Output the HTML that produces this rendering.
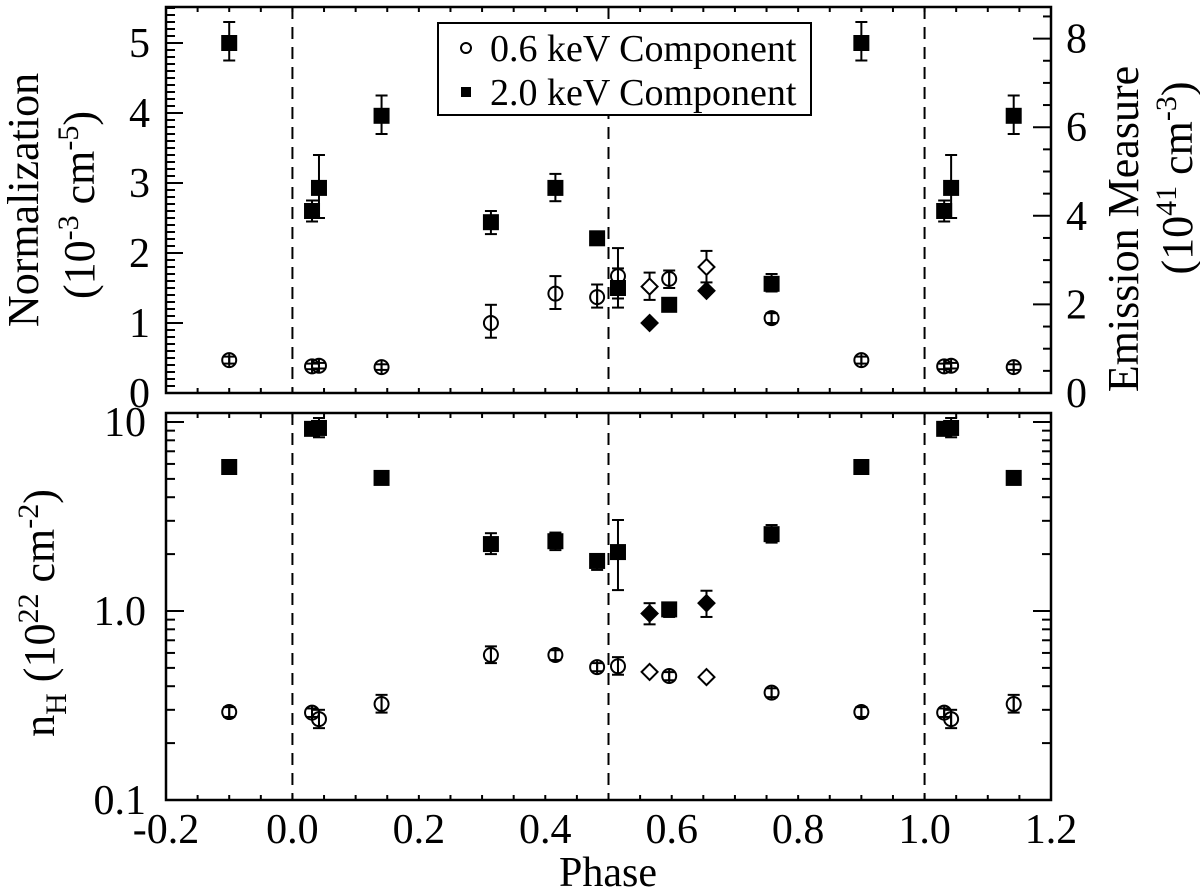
<!DOCTYPE html>
<html><head><meta charset="utf-8"><style>
html,body{margin:0;padding:0;background:#fff}
svg{display:block}
text{font-family:"Liberation Serif",serif;fill:#000}
</style></head><body>
<svg id="chart" width="1200" height="892" viewBox="0 0 1200 892" xmlns="http://www.w3.org/2000/svg"></svg>
<script>
// Base phases
const phasesSq = [-0.1, 0.031, 0.042, 0.141, 0.314, 0.416, 0.482, 0.515, 0.596, 0.758];
const normSq = [5.0, 2.6, 2.93, 3.96, 2.44, 2.93, 2.21, 1.5, 1.26, 1.56];
const normSqLo = [4.75, 2.45, 2.5, 3.7, 2.27, 2.74, 2.15, 1.22, 1.26, 1.45];
const normSqHi = [5.3, 2.75, 3.4, 4.25, 2.6, 3.13, 2.27, 1.78, 1.26, 1.7];
const normCi = [0.47, 0.38, 0.39, 0.37, 1.0, 1.42, 1.37, 1.67, 1.63, 1.07];
const normCiLo = [0.42, 0.34, 0.35, 0.33, 0.79, 1.2, 1.22, 1.35, 1.5, 1.0];
const normCiHi = [0.52, 0.42, 0.43, 0.41, 1.26, 1.67, 1.55, 2.07, 1.75, 1.14];
const nhSq = [5.78, 9.2, 9.3, 5.06, 2.26, 2.34, 1.84, 2.05, 1.02, 2.55];
const nhSqLo = [5.5, 8.7, 8.3, 4.8, 2.0, 2.1, 1.65, 1.29, 0.93, 2.3];
const nhSqHi = [6.1, 9.7, 10.5, 5.3, 2.58, 2.6, 2.0, 3.03, 1.1, 2.85];
const nhCi = [0.292, 0.29, 0.268, 0.322, 0.585, 0.585, 0.505, 0.51, 0.453, 0.37];
const nhCiLo = [0.275, 0.275, 0.24, 0.29, 0.53, 0.55, 0.48, 0.46, 0.43, 0.35];
const nhCiHi = [0.31, 0.305, 0.3, 0.36, 0.65, 0.62, 0.53, 0.57, 0.475, 0.39];
// Diamonds (not repeated)
const phasesDi = [0.565, 0.655];
const normDiOpen = [1.52, 1.8];
const normDiOpenLo = [1.33, 1.58];
const normDiOpenHi = [1.72, 2.03];
const normDiFill = [1.0, 1.46];
const nhDiFill = [0.97, 1.10];
const nhDiFillLo = [0.85, 0.93];
const nhDiFillHi = [1.1, 1.28];
const nhDiOpen = [0.476, 0.447];
const xTickLabels = ["-0.2","0.0","0.2","0.4","0.6","0.8","1.0","1.2"];
const normTickLabels = ["0","1","2","3","4","5"];
const emTickLabels = ["0","2","4","6","8"];
const nhTickLabels = ["0.1","1.0","10"];

const NS="http://www.w3.org/2000/svg";
const svg=document.getElementById('chart');
const X0=166, X1=1051, PMIN=-0.2, PMAX=1.2;
const TT=7, TB=393, BT=413, BB=800;
function xs(p){return X0+(p-PMIN)/(PMAX-PMIN)*(X1-X0);}
function yTop(v){return TB-70*v;}
function yEm(v){return TB-44.3*v;}
function yBot(v){return 611-189*Math.log10(v);}
function el(tag,attrs,parent){const e=document.createElementNS(NS,tag);for(const k in attrs)e.setAttribute(k,attrs[k]);(parent||svg).appendChild(e);return e;}
function line(x1,y1,x2,y2,g,extra){return el('line',Object.assign({x1,y1,x2,y2,stroke:'#000','stroke-width':2},extra||{}),g);}
function text(x,y,s,anchor,size,g){const t=el('text',{x,y,'text-anchor':anchor,'font-size':size},g);t.textContent=s;return t;}

function frame(top,bot,name){
  const g=el('g',{});
  
  
  el('rect',{x:X0,y:top,width:X1-X0,height:bot-top,fill:'none',stroke:'#000','stroke-width':2.5},g);
  for(let i=0;i<=28;i++){const p=PMIN+i*0.05;const x=xs(p);line(x,bot,x,bot-5,g);line(x,top,x,top+5,g);}
  [0,0.5,1].forEach(p=>{line(xs(p),top,xs(p),bot,g,{'stroke-dasharray':'12,8'});});
  return g;
}
const gTop=frame(TT,TB,'top-panel');
const gBot=frame(BT,BB,'bottom-panel');
const gx=el('g',{});


xTickLabels.forEach(s=>{text(xs(parseFloat(s)),843,s,'middle',42,gx);});
const xt=text(608,886,'Phase','middle',42);



for(let i=0;i<=55;i++){const v=i/10;const y=yTop(v);if(y<TT)break;const L=(i%10===0)?17:9;line(X0,y,X0+L,y,gTop);}
normTickLabels.forEach(s=>{text(150,yTop(+s)+14,s,'end',42,gTop);});
for(let i=0;i<=17;i++){const v=i*0.5;const y=yEm(v);if(y<TT+2)break;const L=(i%4===0)?18:8;line(X1,y,X1-L,y,gTop);}
emTickLabels.forEach(s=>{text(1066,yEm(+s)+14,s,'start',42,gTop);});
[0.1,1,10].forEach(d=>{for(let k=1;k<=9;k++){const v=d*k;const y=yBot(v);if(y<BT||y>BB)continue;const L=k===1?18:9;line(X0,y,X0+L,y,gBot);line(X1,y,X1-L,y,gBot);}});
nhTickLabels.forEach(s=>{text(146,yBot(+s)+14,s,'end',42,gBot);});

let t=el('text',{transform:'translate(38,200) rotate(-90)','text-anchor':'middle','font-size':44});
t.textContent='Normalization';


t=el('text',{transform:'translate(94,205) rotate(-90)','text-anchor':'middle','font-size':44});
t.innerHTML='(10<tspan dy="-16" font-size="30">-3</tspan><tspan dy="16"> cm</tspan><tspan dy="-16" font-size="30">-5</tspan><tspan dy="16">)</tspan>';


t=el('text',{transform:'translate(1138,229) rotate(-90)','text-anchor':'middle','font-size':44});
t.textContent='Emission Measure';


t=el('text',{transform:'translate(1192,178) rotate(-90)','text-anchor':'middle','font-size':44});
t.innerHTML='(10<tspan dy="-16" font-size="30">41</tspan><tspan dy="16"> cm</tspan><tspan dy="-16" font-size="30">-3</tspan><tspan dy="16">)</tspan>';


t=el('text',{transform:'translate(54,613) rotate(-90)','text-anchor':'middle','font-size':44});
t.innerHTML='n<tspan dy="12" font-size="30">H</tspan><tspan dy="-12"> (10</tspan><tspan dy="-16" font-size="30">22</tspan><tspan dy="16"> cm</tspan><tspan dy="-16" font-size="30">-2</tspan><tspan dy="16">)</tspan>';



function errbar(x,y1,y2,g){line(x,y1,x,y2,g);line(x-6,y1,x+6,y1,g);line(x-6,y2,x+6,y2,g);}
function square(x,y,g){el('rect',{x:x-8,y:y-8,width:16,height:16,fill:'#000'},g);}
function circle(x,y,g){el('circle',{cx:x,cy:y,r:7,fill:'none',stroke:'#000','stroke-width':2},g);line(x,y-7,x,y+7,g);}
function diamond(x,y,fill,g){el('path',{d:`M${x} ${y-8}L${x+8} ${y}L${x} ${y+8}L${x-8} ${y}Z`,fill:fill?'#000':'#fff',stroke:'#000','stroke-width':2},g);}
function plotPhases(p){const arr=[p];if(p<0.2)arr.push(p+1);return arr;}

const gs=el('g',{});


const gc=el('g',{});


phasesSq.forEach((p,i)=>{
  plotPhases(p).forEach(pp=>{
    const x=xs(pp);
    errbar(x,yTop(normCiLo[i]),yTop(normCiHi[i]),gc);circle(x,yTop(normCi[i]),gc);
    errbar(x,yBot(nhCiLo[i]),yBot(nhCiHi[i]),gc);circle(x,yBot(nhCi[i]),gc);
    errbar(x,yTop(normSqLo[i]),yTop(normSqHi[i]),gs);square(x,yTop(normSq[i]),gs);
    errbar(x,yBot(nhSqLo[i]),yBot(nhSqHi[i]),gs);square(x,yBot(nhSq[i]),gs);
  });
});
const gd=el('g',{});


phasesDi.forEach((p,i)=>{
  const x=xs(p);
  errbar(x,yTop(normDiOpenLo[i]),yTop(normDiOpenHi[i]),gd);diamond(x,yTop(normDiOpen[i]),false,gd);
  diamond(x,yTop(normDiFill[i]),true,gd);
  errbar(x,yBot(nhDiFillLo[i]),yBot(nhDiFillHi[i]),gd);diamond(x,yBot(nhDiFill[i]),true,gd);
  diamond(x,yBot(nhDiOpen[i]),false,gd);
});

const lg=el('g',{});


el('rect',{x:438,y:23,width:373,height:92,fill:'#fff',stroke:'#000','stroke-width':2},lg);
el('circle',{cx:466,cy:48,r:5,fill:'none',stroke:'#000','stroke-width':2},lg);
el('rect',{x:461,y:87,width:10,height:10,fill:'#000'},lg);
text(490,61,'0.6 keV Component','start',38,lg);
text(490,105,'2.0 keV Component','start',38,lg);
</script>
</body></html>
